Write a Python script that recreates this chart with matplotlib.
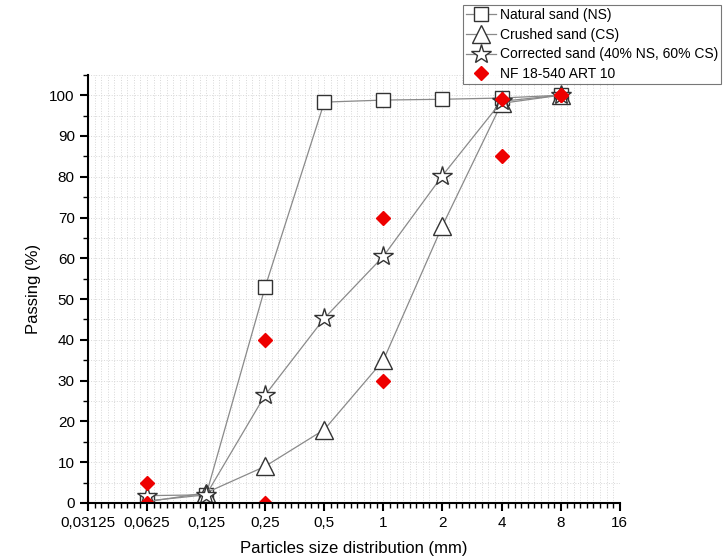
import numpy as np
import matplotlib
matplotlib.use('Agg')
import matplotlib.pyplot as plt
from matplotlib.ticker import FixedLocator, FixedFormatter, MultipleLocator

plt.rcParams['font.family'] = ['Liberation Sans', 'DejaVu Sans']

# Sieve sizes (mm)
sizes = [0.0625, 0.125, 0.25, 0.5, 1, 2, 4, 8]

# Passing (%) for each sand
natural = [0.5, 2.0, 53.0, 98.3, 98.8, 99.0, 99.3, 100.0]
crushed = [0.3, 2.5, 9.0, 18.0, 35.0, 68.0, 98.0, 100.0]
corrected = [1.8, 2.0, 26.5, 45.3, 60.5, 80.3, 98.5, 100.0]

# Limits of NF 18-540 ART 10 spindle
nf_sizes = [0.0625, 0.0625, 0.25, 0.25, 1, 1, 4, 4, 8, 8]
nf_vals = [5, 0, 40, 0, 70, 30, 99, 85, 100, 100]

xticks = [0.03125, 0.0625, 0.125, 0.25, 0.5, 1, 2, 4, 8, 16]
xlabels = ['0,03125', '0,0625', '0,125', '0,25', '0,5', '1', '2', '4', '8', '16']

fig = plt.figure(figsize=(7.24, 5.59), dpi=100)
ax = fig.add_axes([0.1215, 0.1002, 0.7345, 0.766])

line_kw = dict(color='#8a8a8a', linewidth=0.9, markeredgecolor='#333333',
               markerfacecolor='white', markeredgewidth=1.0)
ax.plot(sizes, natural, marker='s', markersize=10, label='Natural sand (NS)', **line_kw)
ax.plot(sizes, crushed, marker='^', markersize=13, label='Crushed sand (CS)', **line_kw)
ax.plot(sizes, corrected, marker='*', markersize=15, label='Corrected sand (40% NS, 60% CS)', **line_kw)
ax.plot(nf_sizes, nf_vals, linestyle='none', marker='D', markersize=7,
        color='#ee0000', markeredgecolor='#ee0000', label='NF 18-540 ART 10')

ax.set_xscale('log', base=2)
ax.set_xlim(0.03125, 16)
ax.set_ylim(0, 105)

ax.xaxis.set_major_locator(FixedLocator(xticks))
ax.xaxis.set_major_formatter(FixedFormatter(xlabels))
minor = []
for k in range(-5, 4):
    for j in range(1, 9):
        minor.append(2.0 ** (k + j / 9.0))
ax.xaxis.set_minor_locator(FixedLocator(minor))
ax.xaxis.set_minor_formatter(FixedFormatter([''] * len(minor)))

ax.set_yticks(np.arange(0, 101, 10))
ax.yaxis.set_minor_locator(MultipleLocator(5))

ax.grid(which='both', color='#d8d8d8', linestyle=':', linewidth=0.7)
ax.set_axisbelow(True)

for side in ['top', 'right']:
    ax.spines[side].set_visible(False)
for side in ['left', 'bottom']:
    ax.spines[side].set_linewidth(1.5)
ax.tick_params(which='major', direction='out', length=6, width=1.5, labelsize=11)
ax.tick_params(which='minor', direction='out', length=3.5, width=1.0)

ax.set_xlabel('Particles size distribution (mm)', fontsize=12, labelpad=8)
ax.set_ylabel('Passing (%)', fontsize=12, labelpad=6)

leg = ax.legend(loc='upper left', bbox_to_anchor=(0.705, 1.163), fontsize=10,
                frameon=True, fancybox=False, edgecolor='#555555', borderpad=0.2,
                labelspacing=0.42, handlelength=2.2, handletextpad=0.3,
                borderaxespad=0)
leg.get_frame().set_linewidth(0.8)

plt.savefig('out.png', dpi=100)
